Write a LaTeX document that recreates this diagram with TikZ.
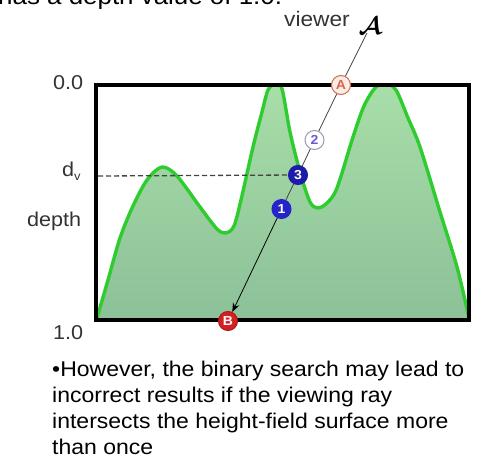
\documentclass[tikz,border=0pt]{standalone}
\usepackage{fontspec}
\setmainfont[FakeStretch=1.08]{Liberation Sans}
\usetikzlibrary{arrows.meta}
\definecolor{hfline}{HTML}{2ECC2E}
\definecolor{hftop}{HTML}{A8DEA8}
\definecolor{hfbot}{HTML}{8CC098}
\definecolor{labelgray}{HTML}{333333}
\definecolor{rayc}{HTML}{444444}
\definecolor{mAfill}{HTML}{FBEDE6}
\definecolor{mAdraw}{HTML}{D2694A}
\definecolor{mTwodraw}{HTML}{9A9AAE}
\definecolor{mTwotext}{HTML}{6A5ACD}
\definecolor{mThree}{HTML}{1C1CA8}
\definecolor{mOne}{HTML}{2424C8}
\definecolor{mB}{HTML}{D42020}
\tikzset{
  axislabel/.style={anchor=base west, inner sep=0, text=labelgray, font=\fontsize{20}{20}\selectfont},
  bodyline/.style={anchor=base west, inner sep=0, font=\fontsize{21.3}{21.3}\selectfont},
  marker/.style={circle, inner sep=0, minimum size=19pt, line width=1pt, font=\fontsize{13}{13}\selectfont\bfseries},
  ray/.style={draw=rayc, line width=0.8pt},
}
\begin{document}
\begin{tikzpicture}[x=1pt,y=-1pt]
\useasboundingbox (0,0) rectangle (479,462);
\clip (0,0) rectangle (479,462);
% cut-off text line from above (cut in the reference too)
\node[anchor=base west, inner sep=0, font=\fontsize{24}{24}\selectfont] (prevline) at (-2,5) {has a depth value of 1.0.};
% height field
\begin{scope}
\clip (96,85) rectangle (469,320);
\shade[top color=hftop, bottom color=hfbot]
  plot[smooth] coordinates {(97,318) (108,280) (120,238) (133,206) (147,180) (162,167) (177,176) (200,207) (217,229) (226,233) (234,226) (241,200) (253,147) (262,112) (268,90) (275,84) (282,89) (290,132) (300,172) (310,202) (318,208) (327,203) (337,188) (353,137) (364,106) (375,88) (385,83) (396,90) (408,118) (420,147) (440,212) (457,267) (469,318)}
  -- (469,322) -- (96,322) -- cycle;
\draw[hfline, line width=3.4pt, line join=round]
  plot[smooth] coordinates {(97,318) (108,280) (120,238) (133,206) (147,180) (162,167) (177,176) (200,207) (217,229) (226,233) (234,226) (241,200) (253,147) (262,112) (268,90) (275,84) (282,89) (290,132) (300,172) (310,202) (318,208) (327,203) (337,188) (353,137) (364,106) (375,88) (385,83) (396,90) (408,118) (420,147) (440,212) (457,267) (469,318)};
\end{scope}
% frame
\draw[line width=4.8pt] (96,85) rectangle (469,320);
% axis labels
\node[axislabel] (lzero) at (53,90) {0.0};
\node[axislabel] (ldv) at (62,177) {d\raisebox{-4pt}{\fontsize{12}{12}\selectfont v}};
\node[axislabel] (ldepth) at (27,227) {depth};
\node[axislabel] (lone) at (53,339) {1.0};
% viewer
\node[anchor=base west, inner sep=0, text=labelgray, font=\fontsize{21}{21}\selectfont] (vtext) at (284,27) {viewer};
\node[inner sep=0, font=\fontsize{30}{30}\selectfont\boldmath] (viewer) at (370,26) {$\mathcal{A}$};
% markers
\node[marker, fill=mAfill, draw=mAdraw, text=mAdraw] (mA) at (341,85) {A};
\node[marker, fill=white, draw=mTwodraw, text=mTwotext] (m2) at (314.5,140) {2};
\node[marker, fill=mThree, draw=mThree, text=white] (m3) at (298,175) {3};
\node[marker, fill=mOne, draw=mOne, text=white] (m1) at (281.5,209) {1};
\node[marker, fill=mB, draw=mB!80!black, text=white] (mB) at (228,321) {B};
% dashed depth line
\coordinate (dvleft) at (98,176);
\draw[rayc, line width=1.3pt, dash pattern=on 5pt off 3pt] (dvleft) -- (m3);
% viewing ray
\draw[ray] (367,33) -- (mA);
\draw[ray] (mA) -- (m2);
\draw[ray] (m2) -- (m3);
\draw[ray] (m3) -- (m1);
\draw[ray, draw=black, -{Stealth[length=9pt,width=7pt]}] (m1) -- (mB);
% body text
\node[bodyline] (t1) at (52,376) {•However, the binary search may lead to};
\node[bodyline] (t2) at (52,402) {incorrect results if the viewing ray};
\node[bodyline] (t3) at (52,428) {intersects the height-field surface more};
\node[bodyline] (t4) at (52,454) {than once};
\end{tikzpicture}
\end{document}
